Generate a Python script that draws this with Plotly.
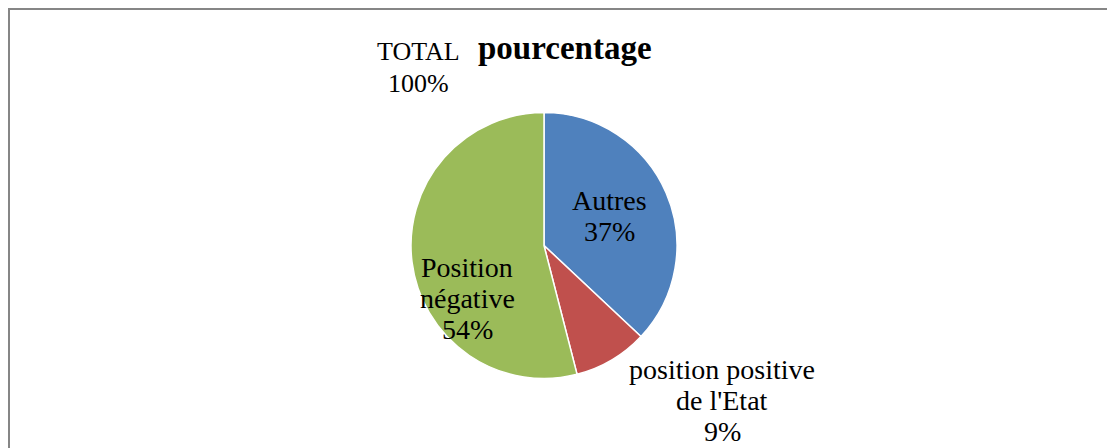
import plotly.graph_objects as go

# ---- data ----
categories = ["Autres", "position positive de l'Etat", "Position négative"]
label_lines = [["Autres"], ["position positive", "de l'Etat"], ["Position", "négative"]]
percentages = [37, 9, 54]
colors = ["#4F81BD", "#C0504D", "#9BBB59"]
total_label = "TOTAL"
total_value = 100
title_text = "pourcentage"

W, H = 1115, 448
OFF = 8  # page body margin
FONT = "Liberation Serif"

def px(x):
    return (x - OFF) / W

def py(y):
    return 1 - (y - OFF) / H

fig = go.Figure()
fig.add_trace(go.Pie(
    labels=categories,
    values=percentages,
    sort=False,
    direction="clockwise",
    rotation=0,
    marker=dict(colors=colors, line=dict(color="white", width=1.5)),
    textinfo="none",
    hoverinfo="label+percent",
    showlegend=False,
    domain=dict(x=[px(411), px(677)], y=[py(379), py(112)]),
))

# label anchor centers (pixel) for each slice label block
label_centers = [(609, 216), (722, 400), (467, 298)]
line_h = 31
annotations = []
for lines, pct, (cx, cy) in zip(label_lines, percentages, label_centers):
    all_lines = lines + [f"{pct}%"]
    n = len(all_lines)
    for i, t in enumerate(all_lines):
        y = cy + (i - (n - 1) / 2) * line_h
        annotations.append(dict(x=px(cx), y=py(y), xref="paper", yref="paper",
                                text=t, showarrow=False, xanchor="center", yanchor="middle",
                                font=dict(family=FONT, size=28, color="#000000")))
# TOTAL label
for i, t in enumerate([total_label, f"{total_value}%"]):
    annotations.append(dict(x=px(418), y=py(51 + i * 32), xref="paper", yref="paper",
                            text=t, showarrow=False, xanchor="center", yanchor="middle",
                            font=dict(family=FONT, size=26, color="#000000")))
# title
annotations.append(dict(x=px(565), y=py(48), xref="paper", yref="paper",
                        text=f"<b>{title_text}</b>", showarrow=False,
                        xanchor="center", yanchor="middle",
                        font=dict(family=FONT, size=33, color="#000000")))

fig.update_layout(
    width=W, height=H,
    margin=dict(l=0, r=0, t=0, b=0),
    paper_bgcolor="white",
    plot_bgcolor="white",
    annotations=annotations,
    shapes=[dict(type="rect", xref="paper", yref="paper",
                 x0=px(9), x1=1.05, y0=-0.05, y1=py(9),
                 line=dict(color="#868686", width=2), fillcolor="rgba(0,0,0,0)")],
)

fig.write_html("out.html")
